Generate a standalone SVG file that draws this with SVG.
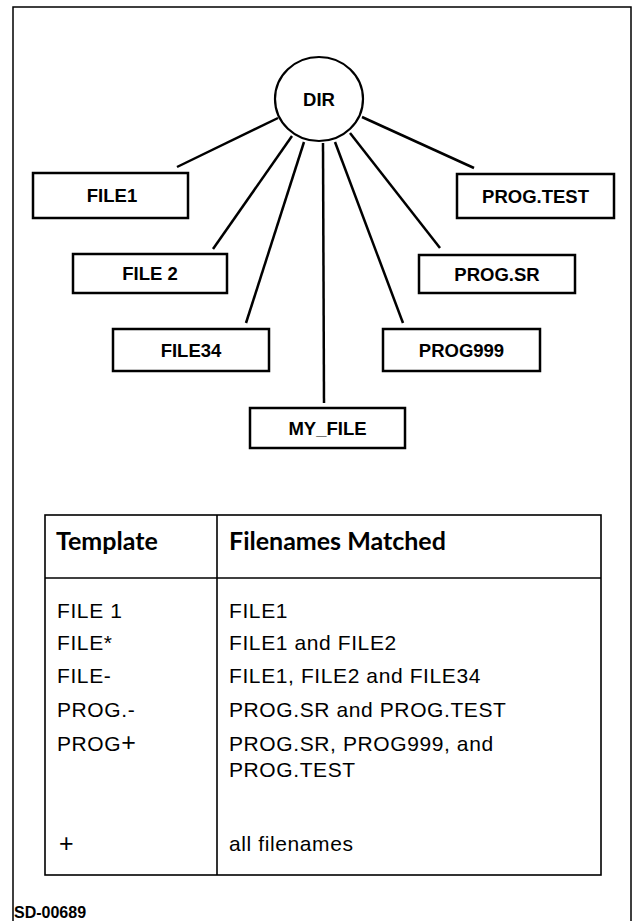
<svg xmlns="http://www.w3.org/2000/svg" width="633" height="921" viewBox="0 0 633 921">
  <style>
    .frame { fill: none; stroke: #000; stroke-width: 1.5; }
    .box { fill: #fff; stroke: #000; stroke-width: 2.5; }
    .dir { fill: #fff; stroke: #000; stroke-width: 2.2; }
    .link { stroke: #000; stroke-width: 2.5; fill: none; }
    .lbl { font-family: "Liberation Sans", Arial, sans-serif; font-weight: bold; font-size: 18.5px; text-anchor: middle; fill: #000; }
    .tbl { fill: none; stroke: #000; stroke-width: 1.6; }
    .hdr { font-family: Lato, "Open Sans", sans-serif; font-weight: bold; font-size: 25px; fill: #000; }
    .cell { font-family: "Liberation Sans", Arial, sans-serif; font-size: 21px; letter-spacing: 0.6px; fill: #000; }
    .plus { font-size: 25px; }
    .code { font-family: "Liberation Sans", Arial, sans-serif; font-weight: bold; font-size: 16px; fill: #000; }
  </style>

  <!-- outer frame (open at the bottom) -->
  <path class="frame" d="M13,921 V7 H631 V921"/>

  <!-- connectors from the directory to its files -->
  <g id="connectors">
    <line class="link" x1="278" y1="118" x2="177" y2="167"/>
    <line class="link" x1="292" y1="136" x2="213" y2="249"/>
    <line class="link" x1="304" y1="142" x2="246" y2="323"/>
    <line class="link" x1="323" y1="143" x2="324" y2="403"/>
    <line class="link" x1="335" y1="142" x2="403" y2="323"/>
    <line class="link" x1="350" y1="133" x2="440" y2="248"/>
    <line class="link" x1="362" y1="117" x2="474" y2="168"/>
  </g>

  <g id="dir">
    <ellipse class="dir" cx="319" cy="99" rx="44" ry="42"/>
    <text class="lbl" x="319" y="106">DIR</text>
  </g>

  <g id="file1">
    <rect class="box" x="33" y="173" width="155" height="45"/>
    <text class="lbl" x="112" y="202">FILE1</text>
  </g>
  <g id="file2">
    <rect class="box" x="73" y="254" width="154" height="39"/>
    <text class="lbl" x="150" y="280">FILE 2</text>
  </g>
  <g id="file34">
    <rect class="box" x="113" y="329" width="156" height="42"/>
    <text class="lbl" x="191" y="356.5">FILE34</text>
  </g>
  <g id="my_file">
    <rect class="box" x="250" y="408" width="155" height="40"/>
    <text class="lbl" x="327.5" y="434.5">MY_FILE</text>
  </g>
  <g id="prog999">
    <rect class="box" x="383" y="329" width="157" height="42"/>
    <text class="lbl" x="461.5" y="356.5">PROG999</text>
  </g>
  <g id="prog_sr">
    <rect class="box" x="419" y="255" width="156" height="38"/>
    <text class="lbl" x="497" y="280.5">PROG.SR</text>
  </g>
  <g id="prog_test">
    <rect class="box" x="457" y="174" width="157" height="44"/>
    <text class="lbl" x="535.5" y="202.5">PROG.TEST</text>
  </g>

  <!-- template table -->
  <g id="table">
    <rect class="tbl" x="45" y="515" width="556" height="360"/>
    <line class="tbl" x1="45" y1="578" x2="601" y2="578"/>
    <line class="tbl" x1="217" y1="515" x2="217" y2="875"/>

    <text class="hdr" x="56" y="550">Template</text>
    <text class="hdr" x="229" y="550">Filenames Matched</text>

    <text class="cell" x="57" y="618">FILE 1</text>
    <text class="cell" x="229" y="618">FILE1</text>

    <text class="cell" x="57" y="650">FILE*</text>
    <text class="cell" x="229" y="650">FILE1 and FILE2</text>

    <text class="cell" x="57" y="683">FILE-</text>
    <text class="cell" x="229" y="683">FILE1, FILE2 and FILE34</text>

    <text class="cell" x="57" y="717">PROG.-</text>
    <text class="cell" x="229" y="717">PROG.SR and PROG.TEST</text>

    <text class="cell" x="57" y="751">PROG<tspan class="plus">+</tspan></text>
    <text class="cell" x="229" y="751">PROG.SR, PROG999, and</text>
    <text class="cell" x="229" y="777">PROG.TEST</text>

    <text class="cell" x="59" y="852"><tspan class="plus">+</tspan></text>
    <text class="cell" x="229" y="851">all filenames</text>
  </g>

  <text class="code" x="14" y="918">SD-00689</text>
</svg>
